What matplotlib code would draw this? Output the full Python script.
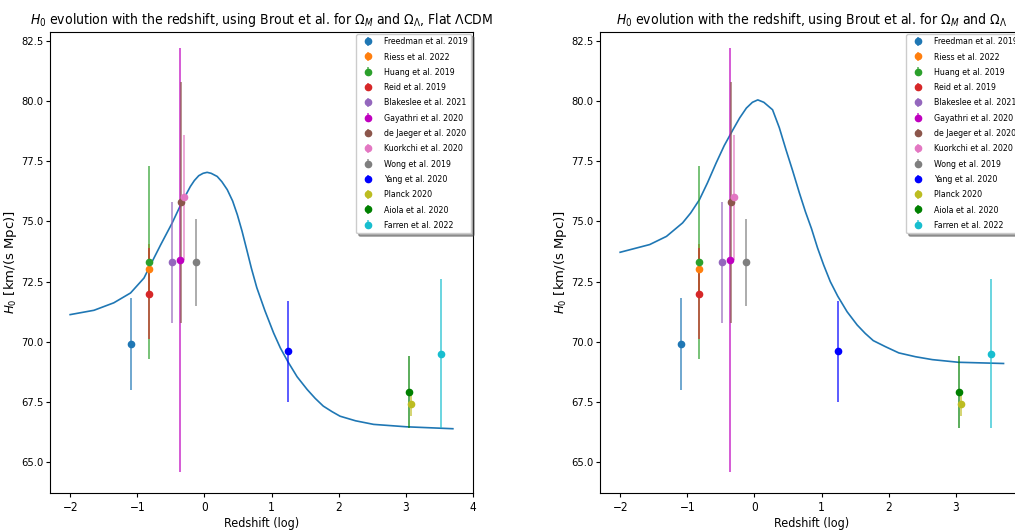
import matplotlib.pyplot as plt
from matplotlib.colors import to_rgba

# measurements: label, log redshift, H0, error, colour
labels = ["Freedman et al. 2019", "Riess et al. 2022", "Huang et al. 2019", "Reid et al. 2019",
          "Blakeslee et al. 2021", "Gayathri et al. 2020", "de Jaeger et al. 2020",
          "Kuorkchi et al. 2020", "Wong et al. 2019", "Yang et al. 2020", "Planck 2020",
          "Aiola et al. 2020", "Farren et al. 2022"]
log_z = [-1.10, -0.82, -0.82, -0.82, -0.48, -0.36, -0.35, -0.30, -0.12, 1.25, 3.08, 3.05, 3.52]
h0 = [69.9, 73.04, 73.3, 72.0, 73.3, 73.4, 75.8, 76.0, 73.3, 69.6, 67.4, 67.9, 69.5]
h0_err = [1.9, 1.04, 4.0, 1.9, 2.5, 8.8, 5.0, 2.6, 1.8, 2.1, 0.5, 1.5, 3.1]
colors = ["tab:blue", "tab:orange", "tab:green", "tab:red", "tab:purple", "m", "tab:brown",
          "tab:pink", "tab:gray", "b", "tab:olive", "g", "tab:cyan"]

# model curves
curve_x_flat = [-2.0, -1.645, -1.35, -1.10, -0.90, -0.81, -0.65, -0.48, -0.34, -0.21, -0.15,
                -0.085, -0.02, 0.04, 0.10, 0.19, 0.26, 0.34, 0.42, 0.49, 0.56, 0.63, 0.70, 0.78,
                0.90, 1.03, 1.13, 1.24, 1.38, 1.53, 1.65, 1.77, 1.90, 2.02, 2.25, 2.52, 3.01, 3.70]
curve_y_flat = [71.13, 71.31, 71.62, 72.03, 72.65, 73.16, 74.04, 74.94, 75.77, 76.45, 76.70,
                76.90, 77.00, 77.04, 77.00, 76.87, 76.65, 76.32, 75.85, 75.28, 74.60, 73.83, 73.05,
                72.25, 71.30, 70.37, 69.75, 69.19, 68.55, 68.02, 67.65, 67.33, 67.10, 66.91,
                66.72, 66.57, 66.47, 66.39]
curve_x = [-2.0, -1.56, -1.31, -1.07, -0.95, -0.82, -0.70, -0.57, -0.45, -0.32, -0.22, -0.12,
           -0.03, 0.05, 0.14, 0.27, 0.37, 0.47, 0.57, 0.67, 0.76, 0.85, 0.94, 1.03, 1.13, 1.24,
           1.38, 1.53, 1.65, 1.77, 1.95, 2.15, 2.40, 2.65, 3.04, 3.71]
curve_y = [73.72, 74.04, 74.38, 74.94, 75.35, 75.90, 76.60, 77.43, 78.15, 78.81, 79.30, 79.71,
           79.95, 80.05, 79.95, 79.64, 78.90, 77.98, 77.10, 76.18, 75.40, 74.70, 73.90, 73.20,
           72.50, 71.90, 71.25, 70.70, 70.35, 70.05, 69.80, 69.54, 69.38, 69.26, 69.15, 69.10]

plt.rcParams['font.family'] = ['DejaVu Sans']
plt.rcParams['font.stretch'] = 'condensed'
plt.rcParams['mathtext.fontset'] = 'custom'
plt.rcParams['mathtext.rm'] = 'DejaVu Sans'
plt.rcParams['mathtext.it'] = 'DejaVu Sans:italic'
plt.rcParams['mathtext.bf'] = 'DejaVu Sans:bold'

fig = plt.figure(figsize=(10.15, 5.31), dpi=100)
# second panel runs past the right edge, like the cropped reference
ax1 = fig.add_axes([50 / 1015, 38 / 531, 423 / 1015, 461 / 531])
ax2 = fig.add_axes([600 / 1015, 38 / 531, 423 / 1015, 461 / 531])

titles = [r"$H_0$ evolution with the redshift, using Brout et al. for $\Omega_M$ and $\Omega_\Lambda$, Flat $\Lambda$CDM",
          r"$H_0$ evolution with the redshift, using Brout et al. for $\Omega_M$ and $\Omega_\Lambda$"]

for ax, cx, cy, title in [(ax1, curve_x_flat, curve_y_flat, titles[0]), (ax2, curve_x, curve_y, titles[1])]:
    ax.plot(cx, cy, color="tab:blue", lw=1.2)
    for i in range(len(labels)):
        ax.errorbar(log_z[i], h0[i], yerr=h0_err[i], fmt='o', color=colors[i], markersize=4.5,
                    elinewidth=1.2, ecolor=to_rgba(colors[i], 0.75), label=labels[i])
    ax.set_xlim(-2.30, 4.0)
    ax.set_ylim(63.72, 82.87)
    ax.set_yticks([65.0, 67.5, 70.0, 72.5, 75.0, 77.5, 80.0, 82.5])
    ax.set_xlabel("Redshift (log)", fontsize=9, labelpad=2)
    ax.set_ylabel(r"$H_0$ [km/(s Mpc)]", fontsize=9.5, labelpad=1.5, fontstretch='normal')
    ax.set_title(title, fontsize=10)
    ax.tick_params(axis='x', labelsize=8.5, length=3, pad=3)
    ax.tick_params(axis='y', labelsize=8, length=3, pad=1.5)
    ax.legend(loc="upper right", fontsize=6.3, shadow=True, labelspacing=0.72,
              borderaxespad=0.2, handletextpad=0.8)

fig.savefig("out.png", dpi=100)
